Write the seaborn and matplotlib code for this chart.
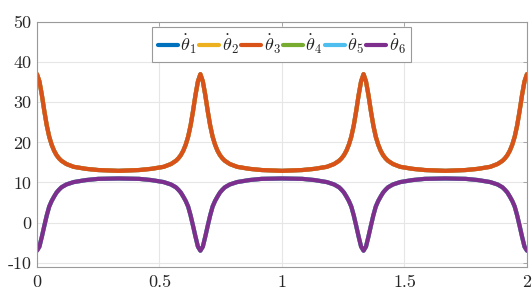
import matplotlib
matplotlib.use("Agg")
import matplotlib.pyplot as plt
import numpy as np
import pandas as pd
import seaborn as sns

# time samples (three periods, denser around the peaks)
t = [0, 0.01, 0.02, 0.03, 0.04, 0.05, 0.06, 0.07, 0.08, 0.09, 0.10, 0.12, 0.15, 0.20, 0.25,
     0.333, 0.417, 0.467, 0.517, 0.547, 0.567, 0.577, 0.587, 0.597, 0.607, 0.617, 0.627, 0.637, 0.647, 0.657,
     0.667, 0.677, 0.687, 0.697, 0.707, 0.717, 0.727, 0.737, 0.747, 0.757, 0.767, 0.787, 0.817, 0.867, 0.917,
     1.0, 1.083, 1.133, 1.183, 1.213, 1.233, 1.243, 1.253, 1.263, 1.273, 1.283, 1.293, 1.303, 1.313, 1.323,
     1.333, 1.343, 1.353, 1.363, 1.373, 1.383, 1.393, 1.403, 1.413, 1.423, 1.433, 1.453, 1.483, 1.533, 1.583,
     1.667, 1.75, 1.8, 1.85, 1.88, 1.9, 1.91, 1.92, 1.93, 1.94, 1.95, 1.96, 1.97, 1.98, 1.99, 2.0]

theta3 = [37, 35.2, 31.8, 27.8, 24.2, 21.4, 19.4, 17.9, 16.8, 16.0, 15.4, 14.6, 13.9, 13.4, 13.1,
          12.9, 13.1, 13.4, 13.9, 14.6, 15.4, 16.0, 16.8, 17.9, 19.4, 21.4, 24.2, 27.8, 31.8, 35.2,
          37, 35.2, 31.8, 27.8, 24.2, 21.4, 19.4, 17.9, 16.8, 16.0, 15.4, 14.6, 13.9, 13.4, 13.1,
          12.9, 13.1, 13.4, 13.9, 14.6, 15.4, 16.0, 16.8, 17.9, 19.4, 21.4, 24.2, 27.8, 31.8, 35.2,
          37, 35.2, 31.8, 27.8, 24.2, 21.4, 19.4, 17.9, 16.8, 16.0, 15.4, 14.6, 13.9, 13.4, 13.1,
          12.9, 13.1, 13.4, 13.9, 14.6, 15.4, 16.0, 16.8, 17.9, 19.4, 21.4, 24.2, 27.8, 31.8, 35.2, 37]

theta6 = [-7, -6, -3.5, -0.8, 1.8, 4.0, 5.4, 6.5, 7.5, 8.2, 8.8, 9.5, 10.1, 10.6, 10.9,
          11.0, 10.9, 10.6, 10.1, 9.5, 8.8, 8.2, 7.5, 6.5, 5.4, 4.0, 1.8, -0.8, -3.5, -6,
          -7, -6, -3.5, -0.8, 1.8, 4.0, 5.4, 6.5, 7.5, 8.2, 8.8, 9.5, 10.1, 10.6, 10.9,
          11.0, 10.9, 10.6, 10.1, 9.5, 8.8, 8.2, 7.5, 6.5, 5.4, 4.0, 1.8, -0.8, -3.5, -6,
          -7, -6, -3.5, -0.8, 1.8, 4.0, 5.4, 6.5, 7.5, 8.2, 8.8, 9.5, 10.1, 10.6, 10.9,
          11.0, 10.9, 10.6, 10.1, 9.5, 8.8, 8.2, 7.5, 6.5, 5.4, 4.0, 1.8, -0.8, -3.5, -6, -7]

# joints 1,2 coincide with 3 and joints 4,5 with 6 (hidden underneath)
theta1 = theta3
theta2 = theta3
theta4 = theta6
theta5 = theta6

names = [r"$\dot{\theta}_1$", r"$\dot{\theta}_2$", r"$\dot{\theta}_3$",
         r"$\dot{\theta}_4$", r"$\dot{\theta}_5$", r"$\dot{\theta}_6$"]
colors = ["#0072BD", "#EDB120", "#D95319", "#77AC30", "#4DBEEE", "#7E2F8E"]

xticks = [0, 0.5, 1, 1.5, 2]
xlabels = ["0", "0.5", "1", "1.5", "2"]
yticks = [-10, 0, 10, 20, 30, 40, 50]
ylabels = ["-10", "0", "10", "20", "30", "40", "50"]

frames = []
for name, vals in zip(names, [theta1, theta2, theta3, theta4, theta5, theta6]):
    frames.append(pd.DataFrame({"t": t, "v": vals, "joint": name}))
df = pd.concat(frames, ignore_index=True)

sns.set_style("white")
plt.rcParams["font.family"] = "cmr10"
plt.rcParams["mathtext.fontset"] = "cm"
plt.rcParams["axes.unicode_minus"] = False

fig = plt.figure(figsize=(5.32, 2.92), dpi=100)
ax = fig.add_axes([0.0695, 0.0866, 0.921, 0.838])

sns.lineplot(data=df, x="t", y="v", hue="joint", palette=colors, hue_order=names,
             linewidth=3, ax=ax, sort=False, estimator=None)

ax.set_xlim(0, 2)
ax.set_ylim(-11, 50)
ax.set_xticks(xticks)
ax.set_xticklabels(xlabels)
ax.set_yticks(yticks)
ax.set_yticklabels(ylabels)
ax.set_xlabel("")
ax.set_ylabel("")
ax.grid(True, color="#e6e6e6", linewidth=0.8)
ax.set_axisbelow(True)
for s in ax.spines.values():
    s.set_color("#9a9a9a")
    s.set_linewidth(0.8)
ax.tick_params(direction="in", length=3, width=0.6, color="#9a9a9a",
               top=True, right=True, labelsize=13, labelcolor="#262626")
ax.tick_params(axis="x", pad=6)
ax.tick_params(axis="y", pad=4)

leg = ax.legend(loc="upper center", bbox_to_anchor=(0.5, 0.978), borderaxespad=0,
                ncol=6, fontsize=13, handlelength=1.1, handletextpad=0.15,
                columnspacing=0.12, borderpad=0.3, fancybox=False, framealpha=1,
                edgecolor="#9a9a9a")
leg.get_frame().set_linewidth(0.8)

fig.savefig("out.png", dpi=100)
